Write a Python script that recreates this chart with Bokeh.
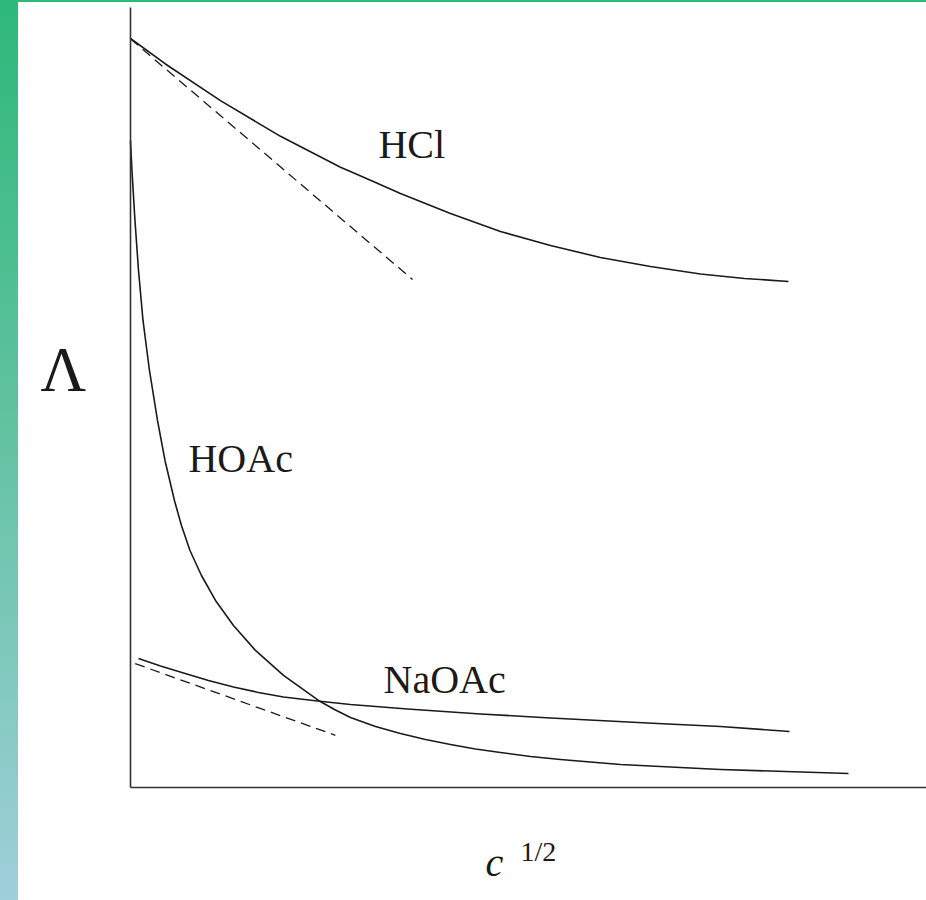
from bokeh.plotting import figure
from bokeh.models import Range1d, Label, Div, LinearAxis, FixedTicker
from bokeh.layouts import row, column
from bokeh.embed import file_html
from bokeh.resources import INLINE

# x = c^(1/2) (arbitrary units), y = molar conductivity Lambda (arbitrary units)
hcl_x = [0.0, 0.0444, 0.1142, 0.1904, 0.2665, 0.3046, 0.3426, 0.4061, 0.4695,
         0.5330, 0.5964, 0.6599, 0.7234, 0.7792, 0.8350]
hcl_y = [0.9615, 0.9288, 0.8817, 0.8359, 0.7963, 0.7796, 0.7625, 0.7368, 0.7137,
         0.6957, 0.6804, 0.6688, 0.6592, 0.6534, 0.6496]
hcl_lim_x = [0.0, 0.358]
hcl_lim_y = [0.961, 0.652]

hoac_x = [0.0, 0.0019, 0.0057, 0.0102, 0.0159, 0.0241, 0.0343, 0.0438, 0.0558,
          0.0647, 0.0755, 0.0901, 0.1079, 0.1307, 0.1586, 0.1942, 0.2386, 0.2589,
          0.2792, 0.3109, 0.3426, 0.3744, 0.4061, 0.4378, 0.4695, 0.5076, 0.5457,
          0.6218, 0.7487, 0.9112]
hoac_y = [0.8306, 0.7920, 0.7279, 0.6637, 0.5995, 0.5353, 0.4711, 0.4198, 0.3684,
          0.3363, 0.3042, 0.2721, 0.2401, 0.2080, 0.1759, 0.1438, 0.1117, 0.1001,
          0.0899, 0.0783, 0.0693, 0.0616, 0.0552, 0.0494, 0.0449, 0.0398, 0.0359,
          0.0295, 0.0231, 0.0180]

naoac_x = [0.0102, 0.0381, 0.0673, 0.0990, 0.1307, 0.1624, 0.1942, 0.2373, 0.2792,
           0.3515, 0.4442, 0.5330, 0.6688, 0.7487, 0.8363]
naoac_y = [0.1656, 0.1560, 0.1470, 0.1374, 0.1290, 0.1220, 0.1162, 0.1110, 0.1065,
           0.1008, 0.0944, 0.0892, 0.0822, 0.0783, 0.0719]
naoac_lim_x = [0.006, 0.260]
naoac_lim_y = [0.159, 0.067]

labels = ["HCl", "HOAc", "NaOAc"]
label_x = [0.3147, 0.0736, 0.3211]
label_y = [0.8249, 0.4218, 0.1381]

ink = "#1a1a1a"
serif = "Liberation Serif"

p = figure(width=908, height=898, output_backend="svg", toolbar_location=None,
           x_range=Range1d(-0.1421, 1.0102), y_range=Range1d(-0.1451, 1.0077),
           x_axis_location=None, y_axis_location=None,
           min_border=0, min_border_left=0, min_border_right=0, min_border_top=0,
           min_border_bottom=0, background_fill_color="white",
           border_fill_color="white", outline_line_color=None)
p.grid.visible = False

for loc, bnds in (("left", (0, 1.0013)), ("below", (0, 1.0102))):
    ax = LinearAxis(fixed_location=0, bounds=bnds, ticker=FixedTicker(ticks=[]),
                    major_tick_line_color=None, minor_tick_line_color=None,
                    major_tick_out=0, major_tick_in=0, minor_tick_out=0,
                    major_label_standoff=0, major_label_text_font_size="0px",
                    axis_line_color="#333333", axis_line_width=1.6)
    p.add_layout(ax, loc)

p.line(hcl_x, hcl_y, line_color=ink, line_width=1.6, line_join="round")
p.line(hcl_lim_x, hcl_lim_y, line_color=ink, line_width=1.3, line_dash="10 6")
p.line(hoac_x, hoac_y, line_color=ink, line_width=1.6, line_join="round")
p.line(naoac_x, naoac_y, line_color=ink, line_width=1.6, line_join="round")
p.line(naoac_lim_x, naoac_lim_y, line_color=ink, line_width=1.3, line_dash="10 6")

for t, lx, ly in zip(labels, label_x, label_y):
    p.add_layout(Label(x=lx, y=ly, text=t, text_font=serif, text_font_size="40px",
                       text_color=ink, text_align="left", text_baseline="alphabetic"))

p.add_layout(Label(x=-0.1142, y=0.5365, text="Λ", text_font=serif, text_font_size="63px",
                   text_color=ink, text_align="left", text_baseline="alphabetic"))
p.add_layout(Label(x=0.4505, y=-0.0968, text="c", text_font=serif, text_font_size="40px",
                   text_font_style="italic", text_color=ink, text_align="left",
                   text_baseline="alphabetic"))
p.add_layout(Label(x=0.495, y=-0.0822, text="1/2", text_font=serif, text_font_size="28px",
                   text_color=ink, text_align="left", text_baseline="alphabetic"))

top_line = Div(text="", width=908, height=2, margin=0,
               styles={"background": "#2eb87a"})
side_bar = Div(text="", width=18, height=900, margin=0,
               styles={"background": "linear-gradient(to bottom, #2eb87a, #5fc29e 45%, #9fcfda)"})

layout = row(side_bar, column(top_line, p, spacing=0), spacing=0)

open("out.html", "w").write(file_html(layout, INLINE))
